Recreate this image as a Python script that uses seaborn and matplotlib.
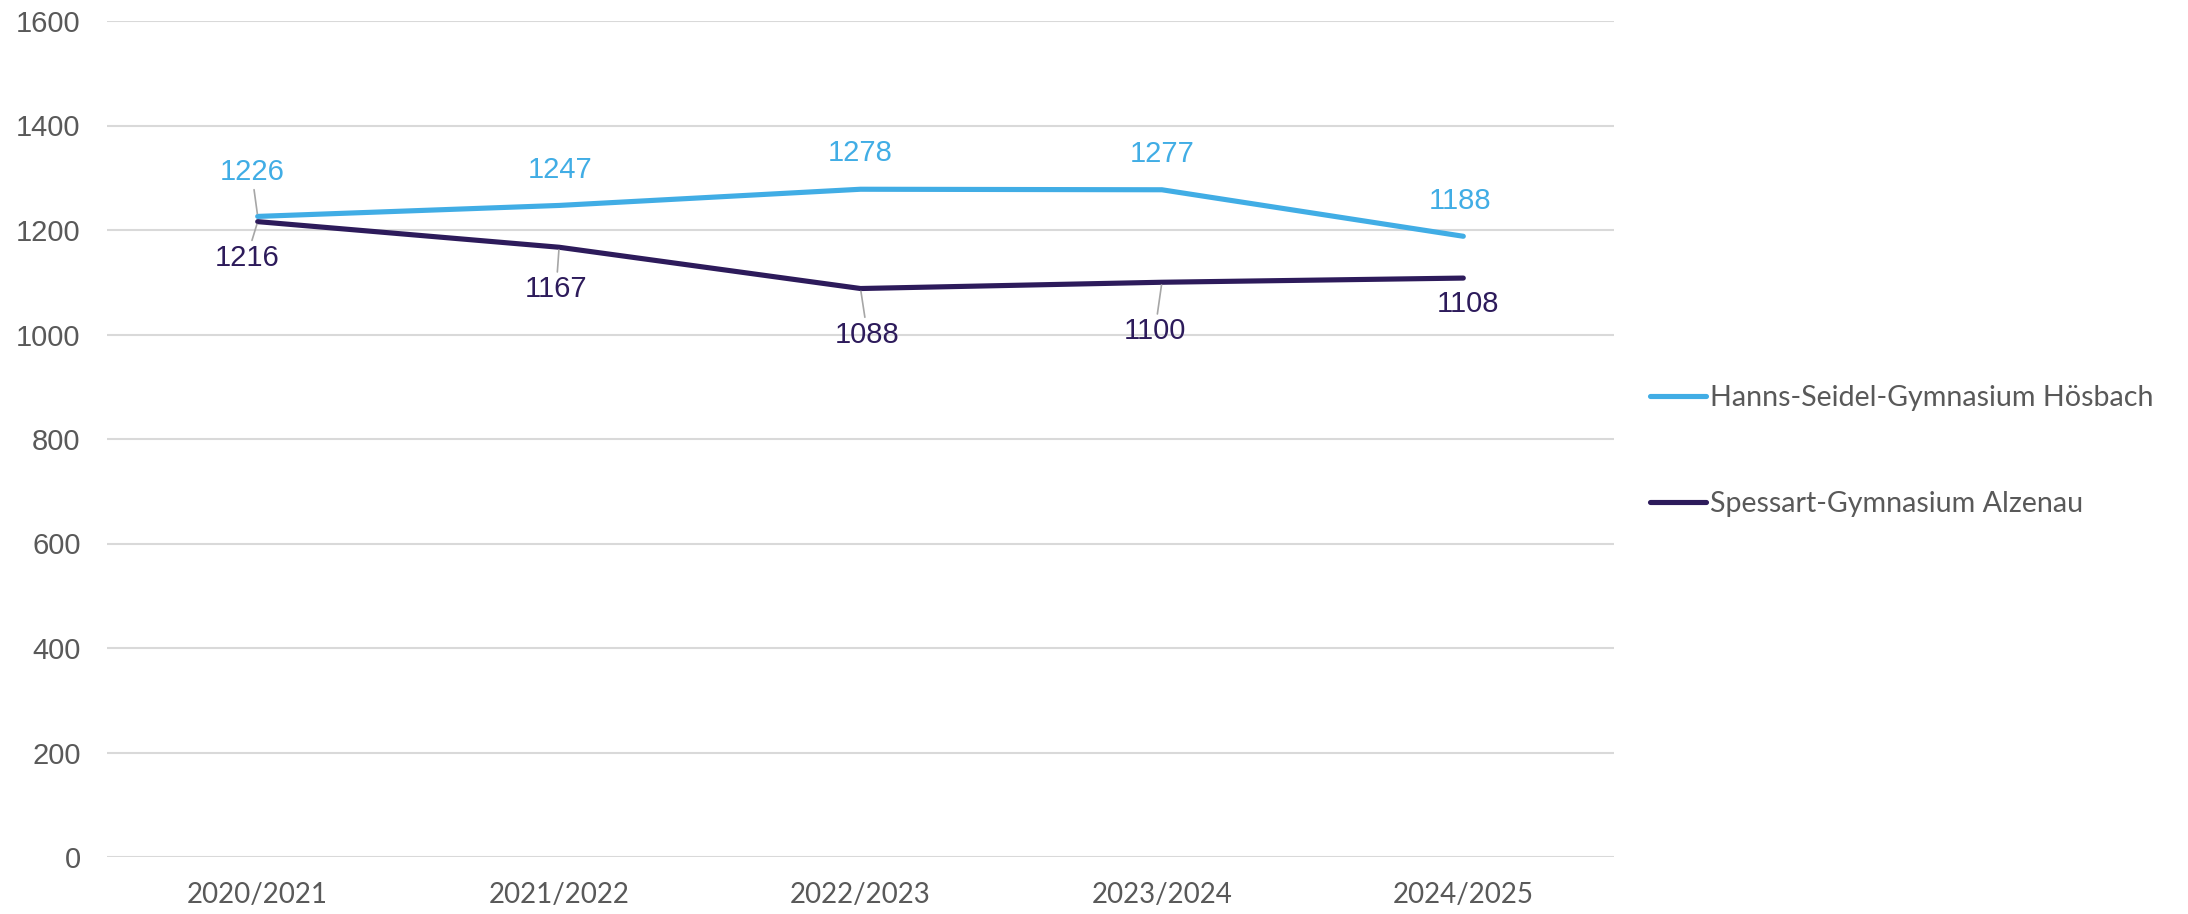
import matplotlib
matplotlib.use("Agg")
import matplotlib.pyplot as plt
import seaborn as sns
import pandas as pd

# ---- data ----
years = ["2020/2021", "2021/2022", "2022/2023", "2023/2024", "2024/2025"]
hoesbach = [1226, 1247, 1278, 1277, 1188]
alzenau = [1216, 1167, 1088, 1100, 1108]
series_names = ["Hanns-Seidel-Gymnasium Hösbach", "Spessart-Gymnasium Alzenau"]
y_ticks = [0, 200, 400, 600, 800, 1000, 1200, 1400, 1600]

# ---- style ----
sns.set_theme(style="white")
plt.rcParams["font.family"] = ["Liberation Sans", "DejaVu Sans"]

c_light = "#41ADE5"
c_dark = "#2D1B5B"
c_text = "#595959"
c_grid = "#D9D9D9"

df = pd.DataFrame({
    "year": years * 2,
    "value": hoesbach + alzenau,
    "school": [series_names[0]] * len(years) + [series_names[1]] * len(years),
})

fig = plt.figure(figsize=(21.88, 9.14), dpi=100)
ax = fig.add_axes([107 / 2188, 1 - 857 / 914, (1614 - 107) / 2188, (857 - 21) / 914])

sns.lineplot(data=df, x="year", y="value", hue="school",
             palette=[c_light, c_dark], linewidth=3.7, ax=ax,
             sort=False, solid_capstyle="round")

ax.set_xlim(-0.5, len(years) - 0.5)
ax.set_ylim(0, 1600)
ax.set_yticks(y_ticks)
ax.set_yticklabels([str(t) for t in y_ticks])
ax.set_xlabel("")
ax.set_ylabel("")
for s in ax.spines.values():
    s.set_visible(False)
ax.grid(axis="y", color=c_grid, linewidth=1.5)
ax.grid(axis="x", visible=False)
ax.set_axisbelow(True)
ax.tick_params(axis="y", length=0, pad=19, labelsize=21, labelcolor=c_text)
ax.tick_params(axis="x", length=0, pad=18, labelsize=20, labelcolor=c_text)
for lbl in ax.get_xticklabels():
    lbl.set_fontfamily(["Lato", "DejaVu Sans"])

# ---- data labels (offsets in pixels) ----
off_light = [(-6, 44), (1, 35), (0, 36), (0, 36), (-3, 35)]
lead_light = [True, False, False, False, False]
off_dark = [(-11, -36), (-3, -42), (7, -46), (-7, -49), (5, -26)]
lead_dark = [True, True, True, True, False]

def add_labels(vals, offs, leads, color):
    for i, (v, (dx, dy), lead) in enumerate(zip(vals, offs, leads)):
        kw = {}
        if lead:
            kw["arrowprops"] = dict(arrowstyle="-", color="#A6A6A6", lw=1.2,
                                    shrinkA=0, shrinkB=2)
        ax.annotate(str(v), xy=(i, v), xytext=(dx, dy), textcoords="offset pixels",
                    ha="center", va="center", fontsize=21, color=color, **kw)

add_labels(hoesbach, off_light, lead_light, c_light)
add_labels(alzenau, off_dark, lead_dark, c_dark)

# ---- legend ----
leg = ax.legend(loc="center left", bbox_to_anchor=(1650 / 2188, 1 - 451 / 914),
                bbox_transform=fig.transFigure, frameon=False, borderaxespad=0,
                borderpad=0, handlelength=1.95, handletextpad=0.15, labelspacing=2.8,
                prop={"family": ["Lato", "DejaVu Sans"], "size": 20.6},
                labelcolor=c_text)
for h in leg.get_lines():
    h.set_linewidth(3.7)
    h.set_solid_capstyle("round")

fig.savefig("out.png", dpi=100, facecolor="white")
